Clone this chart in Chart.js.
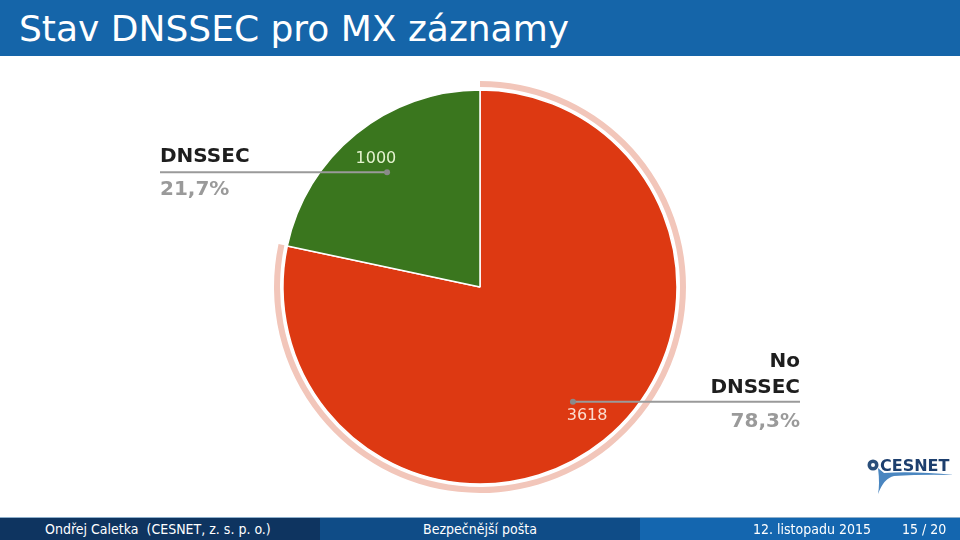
<!DOCTYPE html>
<html>
<head>
<meta charset="utf-8">
<script src="https://cdn.jsdelivr.net/npm/chart.js@4"></script>
<style>
  body { margin: 0; width: 960px; height: 540px; overflow: hidden; background: #fff; font-family: "DejaVu Sans", sans-serif; position: relative; }
  #head { position: absolute; left: 0; top: 0; width: 960px; height: 56px; background: #1565a9; }
  #head h1 { margin: 0; position: absolute; left: 19px; top: 8px; font-weight: normal; font-size: 36px; color: #fff; white-space: nowrap; }
  #wrap { position: absolute; left: 0; top: 56px; width: 960px; height: 461px; }
  #foot { position: absolute; left: 0; top: 517px; width: 960px; height: 23px; font-family: "DejaVu Sans Condensed", "DejaVu Sans", sans-serif; font-size: 14px; color: #fff; border-top: 1px solid #8fb0cc; }
  #foot div { position: absolute; top: 0; height: 23px; line-height: 22px; white-space: nowrap; }
  #logo { position: absolute; left: 864px; top: 454px; width: 92px; height: 42px; }
</style>
</head>
<body>
<div id="head"><h1>Stav DNSSEC pro MX záznamy</h1></div>
<div id="wrap"><canvas id="pieChart"></canvas></div>
<div id="logo">
  <svg width="92" height="42" viewBox="0 0 92 42">
    <path d="M14 14 Q16 30 14 40 Q20 24 30 22 Q60 20 90 21 Q50 17 20 19 Z" fill="#4a86c0"/>
    <circle cx="9" cy="11" r="5.5" fill="#2a4f7a"/>
    <circle cx="9" cy="11" r="2" fill="#fff"/>
    <text x="16" y="17" font-family="DejaVu Sans" font-weight="bold" font-size="16" fill="#1d3f6e">CESNET</text>
  </svg>
</div>
<div id="foot">
  <div style="left:0;width:320px;background:#0e3460;"><span style="position:absolute;left:45px;">Ondřej Caletka&nbsp;&nbsp;(CESNET, z. s. p. o.)</span></div>
  <div style="left:320px;width:320px;background:#0f4c87;text-align:center;">Bezpečnější pošta</div>
  <div style="left:640px;width:320px;background:#1466af;"><span style="position:absolute;left:113px;">12. listopadu 2015</span><span style="position:absolute;left:262px;">15 / 20</span></div>
</div>
<script>
const categories = ['No DNSSEC', 'DNSSEC'];
const counts = [3618, 1000];
const percentLabels = ['78,3%', '21,7%'];

const sliceColors = ['#dd3912', '#3a761e'];
const valueColors = ['#fbdccf', '#e4f3cf'];

// label blocks next to the pie (page coords relative to canvas)
const calloutPlugin = {
  id: 'callouts',
  afterDatasetsDraw(chart) {
    const ctx = chart.ctx;
    const meta = chart.getDatasetMeta(2);
    meta.data.forEach((arc, i) => {
      const mid = (arc.startAngle + arc.endAngle) / 2;
      const R = arc.outerRadius;
      const dotX = arc.x + Math.cos(mid) * R * 0.75;
      const dotY = arc.y + Math.sin(mid) * R * 0.75;
      const txtX = arc.x + Math.cos(mid) * R * 0.84;
      const txtY = arc.y + Math.sin(mid) * R * 0.84;

      ctx.save();
      // value label
      ctx.font = '16px "DejaVu Sans"';
      ctx.fillStyle = valueColors[i];
      ctx.textAlign = 'center';
      ctx.textBaseline = 'middle';
      ctx.fillText(String(counts[i]), txtX + (i === 0 ? 3 : 0), txtY);

      // leader line
      const lineY = dotY;
      const endX = i === 0 ? 800 : 160;
      ctx.strokeStyle = '#9a9a9a';
      ctx.lineWidth = 2;
      ctx.beginPath();
      ctx.moveTo(dotX, lineY);
      ctx.lineTo(endX, lineY);
      ctx.stroke();
      ctx.fillStyle = '#8a8a8a';
      ctx.beginPath();
      ctx.arc(dotX, lineY, 3, 0, Math.PI * 2);
      ctx.fill();

      // name + percent
      ctx.font = 'bold 20px "DejaVu Sans"';
      ctx.textBaseline = 'alphabetic';
      if (i === 0) {
        ctx.textAlign = 'right';
        ctx.fillStyle = '#1e1e1e';
        ctx.fillText('No', endX, lineY - 35);
        ctx.fillText('DNSSEC', endX, lineY - 9);
        ctx.fillStyle = '#9a9a9a';
        ctx.fillText(percentLabels[i], endX, lineY + 25);
      } else {
        ctx.textAlign = 'left';
        ctx.fillStyle = '#1e1e1e';
        ctx.fillText(categories[i], endX, lineY - 10);
        ctx.fillStyle = '#9a9a9a';
        ctx.fillText(percentLabels[i], endX, lineY + 23);
      }
      ctx.restore();
    });
  }
};

new Chart(document.getElementById('pieChart'), {
  type: 'pie',
  data: {
    labels: categories,
    datasets: [
      { // highlight ring on the largest slice
        data: counts,
        backgroundColor: ['#f2c6ba', 'rgba(0,0,0,0)'],
        borderWidth: 0,
        weight: 6
      },
      { // white gap
        data: counts,
        backgroundColor: ['rgba(0,0,0,0)', 'rgba(0,0,0,0)'],
        borderWidth: 0,
        weight: 3
      },
      {
        data: counts,
        backgroundColor: sliceColors,
        borderColor: '#ffffff',
        borderWidth: 1.5,
        weight: 197
      }
    ]
  },
  options: {
    responsive: true,
    maintainAspectRatio: false,
    animation: false,
    layout: { padding: { top: 25, bottom: 24, left: 274, right: 274 } },
    plugins: {
      legend: { display: false },
      tooltip: { enabled: false },
      title: { display: false }
    }
  },
  plugins: [calloutPlugin]
});
</script>
</body>
</html>
